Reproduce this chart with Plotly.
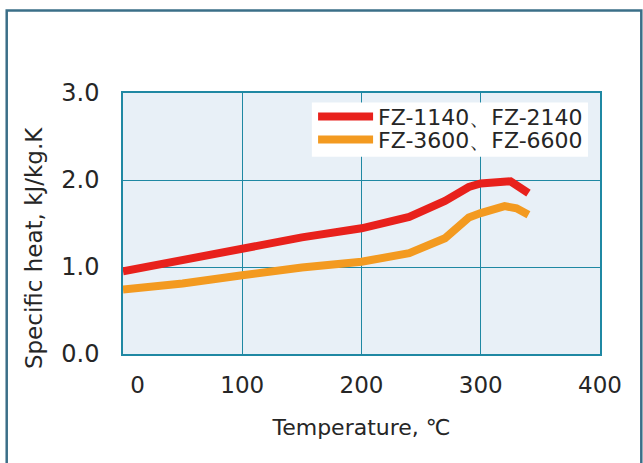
import plotly.graph_objects as go

# Data
temp_red = [0, 50, 100, 150, 200, 240, 270, 290, 300, 320, 325, 340]
cp_red = [0.95, 1.08, 1.22, 1.34, 1.445, 1.575, 1.76, 1.92, 1.96, 1.99, 1.985, 1.85]
temp_orange = [0, 50, 100, 150, 200, 240, 270, 290, 300, 320, 330, 340]
cp_orange = [0.74, 0.81, 0.905, 0.995, 1.06, 1.16, 1.33, 1.57, 1.62, 1.70, 1.675, 1.60]
series_names = ["FZ-1140、FZ-2140", "FZ-3600、FZ-6600"]
x_ticks = [0, 100, 200, 300, 400]
x_ticklabels = ["\u00a0\u00a0\u00a0\u00a00", "100", "200", "300", "400"]
y_ticks = [0, 1, 2, 3]
y_ticklabels = ["0.0", "1.0", "2.0", "3.0"]
x_title = "Temperature, ℃"
y_title = "Specific heat, kJ/kg.K"

FONT = "DejaVu Sans"
GRID = "#1f88a3"
TXT = "#262626"

fig = go.Figure()
fig.add_trace(go.Scatter(x=temp_red, y=cp_red, mode="lines", name=series_names[0],
                         line=dict(color="#e8211c", width=8), legend="legend"))
fig.add_trace(go.Scatter(x=temp_orange, y=cp_orange, mode="lines", name=series_names[1],
                         line=dict(color="#f39a20", width=8), legend="legend2"))

leg_common = dict(xanchor="right", yanchor="top", bgcolor="rgba(0,0,0,0)", borderwidth=0,
                  font=dict(family=FONT, size=22, color=TXT), itemwidth=55)

fig.update_layout(
    width=643, height=463,
    margin=dict(l=122.5, r=42.7, t=92.7, b=108.5, autoexpand=False),
    paper_bgcolor="white",
    plot_bgcolor="#e8f0f7",
    font=dict(family=FONT, color=TXT, size=22),
    showlegend=True,
    legend=dict(x=0.975, y=0.990, **leg_common),
    legend2=dict(x=0.975, y=0.9015, **leg_common),
    xaxis=dict(range=[0, 400], tickvals=x_ticks, ticktext=x_ticklabels,
               showgrid=True, gridcolor=GRID, gridwidth=1.3,
               showline=True, linecolor=GRID, linewidth=1.5, mirror=True,
               zeroline=False, ticks="", ticklabelstandoff=10, automargin=False,
               tickfont=dict(size=23),
               title=dict(text=x_title, font=dict(size=22), standoff=22)),
    yaxis=dict(range=[0, 3], tickvals=y_ticks, ticktext=y_ticklabels,
               showgrid=True, gridcolor=GRID, gridwidth=1.3,
               showline=True, linecolor=GRID, linewidth=1.5, mirror=True,
               zeroline=False, ticks="", ticklabelstandoff=17, automargin=False,
               tickfont=dict(size=24)),
)

# legend background box
fig.add_shape(type="rect", xref="paper", yref="paper",
              x0=0.9748 - 0.5789, x1=0.9748, y0=0.7559, y1=0.9633,
              line=dict(width=0), fillcolor="white", layer="above")

# y-axis title placed as rotated annotation (centered lower than plot middle, as in reference)
fig.add_annotation(text=y_title, textangle=-90, showarrow=False,
                   xref="paper", yref="paper", x=-0.187, y=0.405,
                   xanchor="center", yanchor="middle",
                   font=dict(family=FONT, size=23, color=TXT))

# outer frame
fig.add_shape(type="rect", xref="paper", yref="paper",
              x0=-0.2438, x1=1.0866, y0=-0.5, y1=1.316,
              line=dict(color="#3b6f88", width=2.5), fillcolor="rgba(0,0,0,0)", layer="below")

fig.write_html("out.html", config={"displayModeBar": False},
               post_script="document.body.style.margin='0';")
